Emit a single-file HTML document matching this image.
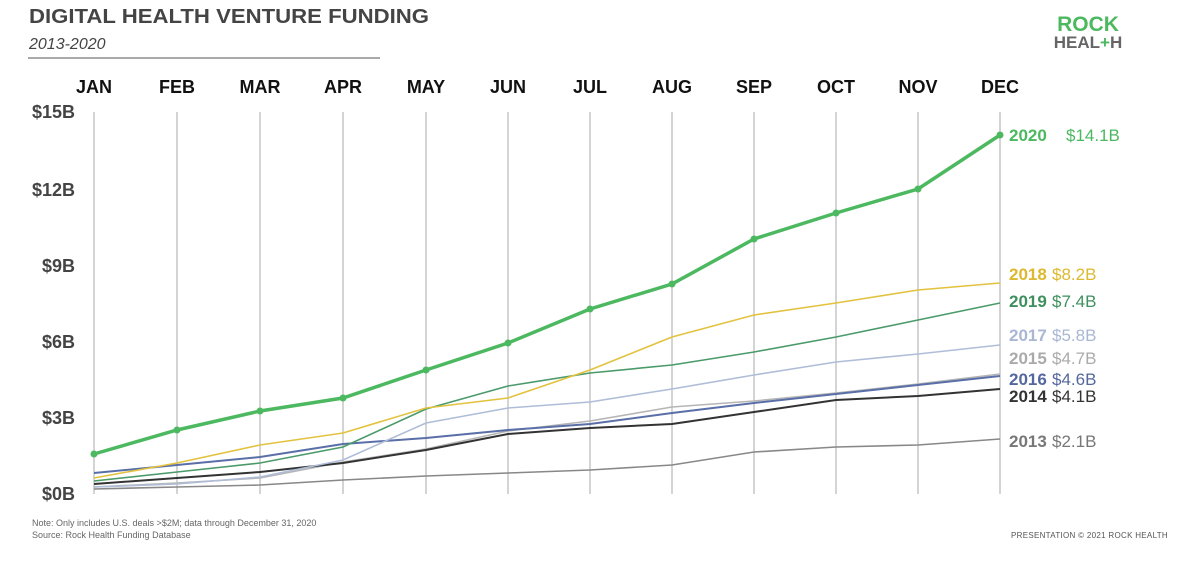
<!DOCTYPE html>
<html><head><meta charset="utf-8"><style>
body{margin:0;background:#fff;width:1200px;height:560px;overflow:hidden;font-family:"Liberation Sans",sans-serif}
</style></head><body>
<svg width="1200" height="560" xmlns="http://www.w3.org/2000/svg" font-family="Liberation Sans, sans-serif">
<text x="29" y="23" font-size="20" font-weight="bold" fill="#444" textLength="400" lengthAdjust="spacingAndGlyphs">DIGITAL HEALTH VENTURE FUNDING</text>
<text x="29" y="49" font-size="16" font-style="italic" fill="#444">2013-2020</text>
<line x1="28" y1="58" x2="380" y2="58" stroke="#555" stroke-width="1"/>
<text x="1088" y="31" font-size="21" font-weight="bold" fill="#4cb860" text-anchor="middle">ROCK</text>
<text x="1088" y="48" font-size="17" font-weight="bold" fill="#666" text-anchor="middle">HEAL<tspan fill="#4cb860">+</tspan>H</text>
<g font-size="18" font-weight="bold" fill="#111" text-anchor="middle">
<text x="94" y="93">JAN</text><text x="177" y="93">FEB</text><text x="260" y="93">MAR</text><text x="343" y="93">APR</text><text x="426" y="93">MAY</text><text x="508" y="93">JUN</text><text x="590" y="93">JUL</text><text x="672" y="93">AUG</text><text x="754" y="93">SEP</text><text x="836" y="93">OCT</text><text x="918" y="93">NOV</text><text x="1000" y="93">DEC</text>
</g>
<g font-size="18" font-weight="bold" fill="#444" text-anchor="end">
<text x="75" y="118">$15B</text><text x="75" y="196">$12B</text><text x="75" y="272">$9B</text><text x="75" y="348">$6B</text><text x="75" y="424">$3B</text><text x="75" y="500">$0B</text>
</g>
<g stroke="#aaa" stroke-width="1">
<line x1="94" y1="112" x2="94" y2="494"/><line x1="177" y1="112" x2="177" y2="494"/><line x1="260" y1="112" x2="260" y2="494"/><line x1="343" y1="112" x2="343" y2="494"/><line x1="426" y1="112" x2="426" y2="494"/><line x1="508" y1="112" x2="508" y2="494"/><line x1="590" y1="112" x2="590" y2="494"/><line x1="672" y1="112" x2="672" y2="494"/><line x1="754" y1="112" x2="754" y2="494"/><line x1="836" y1="112" x2="836" y2="494"/><line x1="918" y1="112" x2="918" y2="494"/><line x1="1000" y1="112" x2="1000" y2="494"/>
</g>
<g fill="none" stroke-width="1.6">
<polyline stroke="#888" points="94,489 177,487 260,485 343,480 426,476 508,473 590,470 672,465 754,452 836,447 918,445 1000,439"/>
<polyline stroke="#b5b5b5" points="94,487 177,483 260,478 343,462 426,449 508,431 590,421 672,407 754,401 836,393 918,384 1000,374"/>
<polyline stroke="#333" stroke-width="2" points="94,484 177,478 260,472 343,463 426,450 508,434 590,428 672,424 754,412 836,400 918,396 1000,389"/>
<polyline stroke="#5a6fa8" stroke-width="2" points="94,473 177,465 260,457 343,444 426,438 508,430 590,424 672,413 754,403 836,394 918,385 1000,376"/>
<polyline stroke="#afbdd8" points="94,487 177,484 260,477 343,460 426,423 508,408 590,402 672,389 754,375 836,362 918,354 1000,345"/>
<polyline stroke="#4a9a6a" points="94,481 177,472 260,463 343,447 426,409 508,386 590,373 672,365 754,352 836,337 918,320 1000,303"/>
<polyline stroke="#e2c23e" points="94,478 177,463 260,445 343,433 426,408 508,398 590,370 672,337 754,315 836,303 918,290 1000,283"/>
<polyline stroke="#4cb860" stroke-width="3.5" points="94,454 177,430 260,411 343,398 426,370 508,343 590,309 672,284 754,239 836,213 918,189 1000,135"/>
</g>
<g fill="#4cb860">
<circle cx="94" cy="454" r="3.5"/><circle cx="177" cy="430" r="3.5"/><circle cx="260" cy="411" r="3.5"/><circle cx="343" cy="398" r="3.5"/><circle cx="426" cy="370" r="3.5"/><circle cx="508" cy="343" r="3.5"/><circle cx="590" cy="309" r="3.5"/><circle cx="672" cy="284" r="3.5"/><circle cx="754" cy="239" r="3.5"/><circle cx="836" cy="213" r="3.5"/><circle cx="918" cy="189" r="3.5"/><circle cx="1000" cy="135" r="3.5"/>
</g>
<g font-size="17">
<text x="1009" y="141" fill="#4cb860"><tspan font-weight="bold">2020</tspan><tspan x="1066">$14.1B</tspan></text>
<text x="1009" y="280" fill="#dcb92e"><tspan font-weight="bold">2018</tspan><tspan x="1052">$8.2B</tspan></text>
<text x="1009" y="307" fill="#3f8f5f"><tspan font-weight="bold">2019</tspan><tspan x="1052">$7.4B</tspan></text>
<text x="1009" y="341" fill="#a9b7d3"><tspan font-weight="bold">2017</tspan><tspan x="1052">$5.8B</tspan></text>
<text x="1009" y="364" fill="#aaa"><tspan font-weight="bold">2015</tspan><tspan x="1052">$4.7B</tspan></text>
<text x="1009" y="385" fill="#55689d"><tspan font-weight="bold">2016</tspan><tspan x="1052">$4.6B</tspan></text>
<text x="1009" y="402" fill="#333"><tspan font-weight="bold">2014</tspan><tspan x="1052">$4.1B</tspan></text>
<text x="1009" y="447" fill="#777"><tspan font-weight="bold">2013</tspan><tspan x="1052">$2.1B</tspan></text>
</g>
<text x="32" y="526" font-size="9" fill="#666">Note: Only includes U.S. deals &gt;$2M; data through December 31, 2020</text>
<text x="32" y="538" font-size="9" fill="#666">Source: Rock Health Funding Database</text>
<text x="1168" y="538" font-size="8" fill="#555" text-anchor="end" letter-spacing="0.3">PRESENTATION © 2021 ROCK HEALTH</text>
</svg>
</body></html>
